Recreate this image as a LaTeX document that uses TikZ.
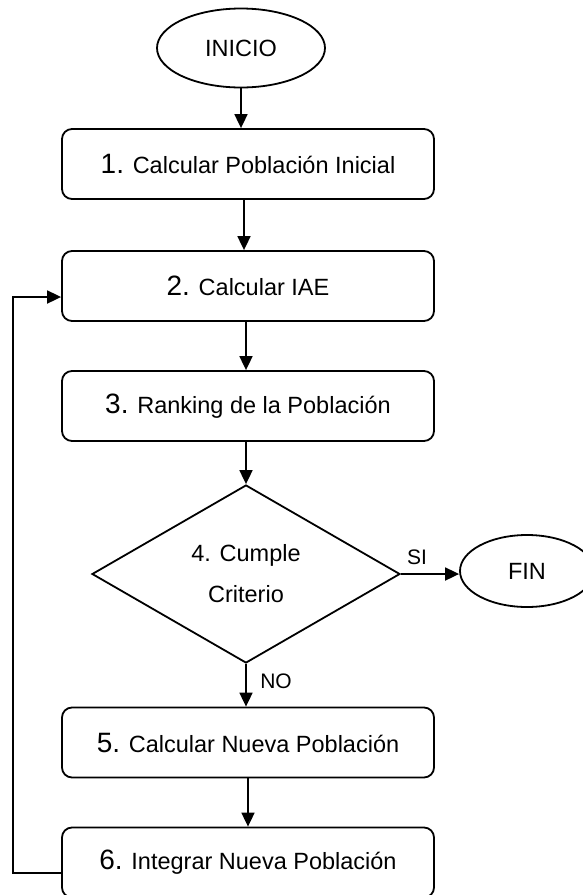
\documentclass[tikz,border=0pt]{standalone}
\usepackage{fontspec}
\setmainfont{Liberation Sans}
\usetikzlibrary{shapes.geometric,arrows.meta}
\tikzset{
  stepbox/.style={draw, line width=1.8pt, rounded corners=10pt, minimum width=372pt, minimum height=70pt, inner sep=0pt, font=\fontsize{23.5}{28}\selectfont},
  term/.style={draw, ellipse, line width=1.8pt, inner sep=0pt, font=\fontsize{23.5}{28}\selectfont},
  decis/.style={draw, diamond, line width=1.8pt, inner sep=0pt, minimum width=308pt, minimum height=178pt, aspect=1.73, align=center, font=\fontsize{23.5}{41}\selectfont},
  flow/.style={line width=1.8pt, -{Triangle[length=14pt,width=13pt]}},
  lbl/.style={font=\fontsize{21}{24}\selectfont, inner sep=0pt}
}
\newcommand{\bignum}[1]{{\fontsize{28}{30}\selectfont #1}}
\begin{document}
\begin{tikzpicture}[x=1pt,y=-1pt]
\useasboundingbox (0,0) rectangle (582,895);
\node[term, minimum width=168pt, minimum height=79pt] (ini) at (241,48) {INICIO};
\node[stepbox] (b1) at (248,164) {\bignum{1.} Calcular Población Inicial};
\node[stepbox] (b2) at (248,286) {\bignum{2.} Calcular IAE};
\node[stepbox] (b3) at (248,406) {\bignum{3.} Ranking de la Población};
\node[decis] (d4) at (246,574) {4. Cumple\\Criterio};
\node[term, minimum width=134pt, minimum height=72pt] (fin) at (527,571) {FIN};
\node[stepbox] (b5) at (248,742.5) {\bignum{5.} Calcular Nueva Población};
\node[stepbox] (b6) at (248,862.5) {\bignum{6.} Integrar Nueva Población};
\draw[flow] (ini.south) -- (ini.south |- b1.north);
\draw[flow] (b1.south -| 244,0) -- (b2.north -| 244,0);
\draw[flow] (b2.south -| 246,0) -- (b3.north -| 246,0);
\draw[flow] (b3.south -| 246,0) -- (d4.north);
\draw[flow] (d4.east) -- (fin.west |- d4.east);
\draw[flow] (d4.south) -- (d4.south |- b5.north);
\draw[flow] (b5.south -| 248,0) -- (b6.north -| 248,0);
\coordinate (c1) at (13,873);
\coordinate (c2) at (13,297);
\draw[flow] (b6.west |- c1) -- (c1) -- (c2) -- (b2.west |- c2);
\node[lbl] (si) at (417,557) {SI};
\node[lbl] (no) at (276,681) {NO};
\end{tikzpicture}
\end{document}
